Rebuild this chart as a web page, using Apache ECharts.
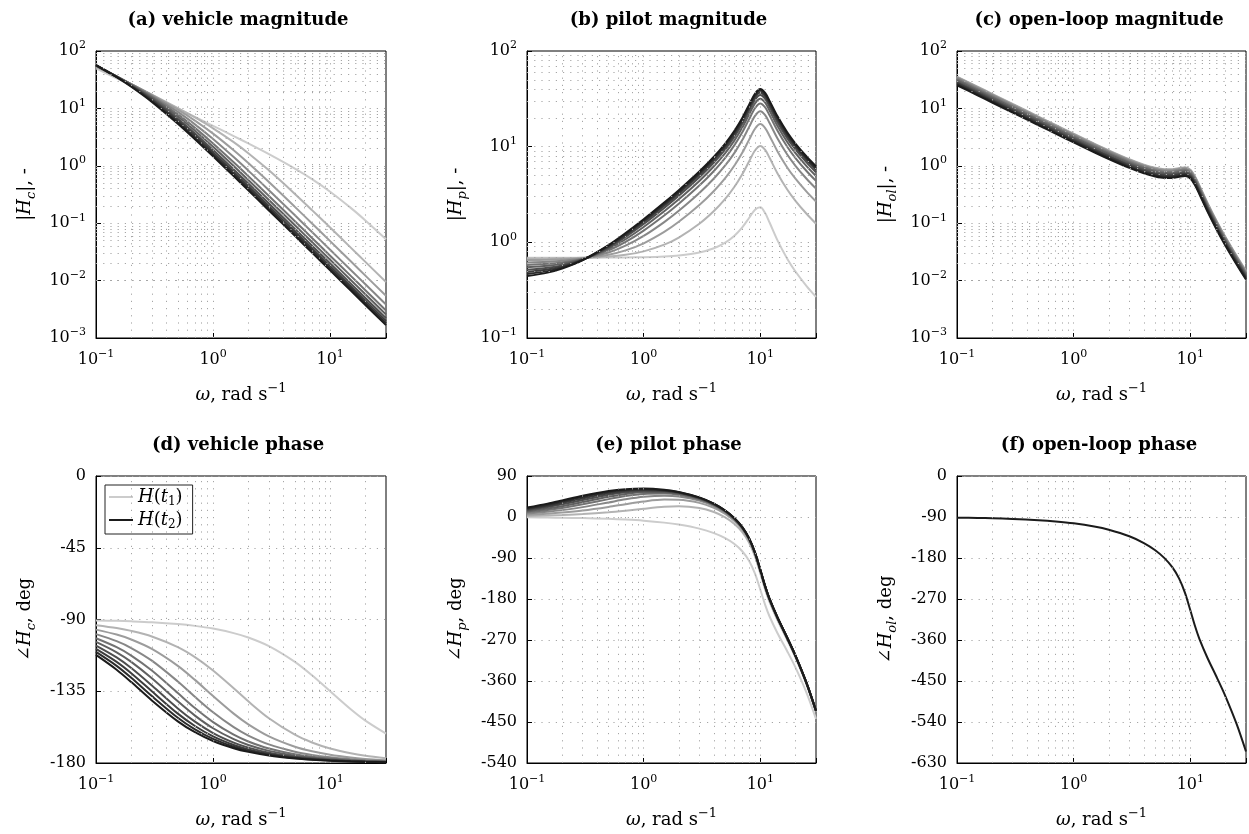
<!DOCTYPE html>
<html>
<head>
<meta charset="utf-8">
<script src="https://cdn.jsdelivr.net/npm/echarts@6/dist/echarts.min.js"></script>
<style>html,body{margin:0;padding:0;background:#fff}#c{width:1249px;height:834px}</style>
</head>
<body>
<div id="c"></div>
<script>
// ---------- data ----------
const omegaVehicle = [0.1, 0.15, 0.2, 0.3, 0.5, 0.7, 1, 1.5, 2, 3, 5, 7, 10, 15, 20, 30];
const omegaPilot = [0.1, 0.15, 0.2, 0.3, 0.5, 0.7, 1, 1.5, 2, 3, 4, 5, 6, 7, 8, 9, 10, 11, 12, 14, 17, 20, 25, 30];

const vehicleMag = [
  [50.0, 33.33, 25.0, 16.66, 9.99, 7.126, 4.975, 3.296, 2.451, 1.596, 0.894, 0.5851, 0.3536, 0.1849, 0.1118, 0.0527],
  [53.0, 35.25, 26.35, 17.40, 10.14, 6.951, 4.503, 2.583, 1.659, 0.833, 0.3237, 0.1691, 0.0839, 0.03755, 0.02117, 0.00943],
  [54.0, 35.73, 26.52, 17.18, 9.499, 6.127, 3.635, 1.864, 1.115, 0.5204, 0.1925, 0.0990, 0.0487, 0.02169, 0.01221, 0.00543],
  [55.0, 36.10, 26.51, 16.72, 8.674, 5.277, 2.936, 1.4187, 0.8248, 0.3758, 0.1371, 0.0702, 0.03447, 0.01534, 0.00863, 0.003837],
  [55.5, 36.07, 26.16, 16.02, 7.851, 4.580, 2.453, 1.1518, 0.6615, 0.2985, 0.1083, 0.0554, 0.02718, 0.01209, 0.00680, 0.003023],
  [56.0, 36.03, 25.82, 15.39, 7.211, 4.091, 2.144, 0.9915, 0.5660, 0.2543, 0.09206, 0.04705, 0.02307, 0.01026, 0.005771, 0.002565],
  [56.3, 35.79, 25.29, 14.67, 6.599, 3.662, 1.889, 0.8648, 0.4917, 0.2203, 0.07962, 0.04067, 0.01994, 0.008864, 0.004987, 0.002217],
  [56.6, 35.58, 24.82, 14.06, 6.140, 3.358, 1.715, 0.7801, 0.4425, 0.1979, 0.07147, 0.03650, 0.01789, 0.007954, 0.004475, 0.001989],
  [56.8, 35.29, 24.33, 13.50, 5.755, 3.113, 1.578, 0.7152, 0.4051, 0.1809, 0.06531, 0.03334, 0.01634, 0.007266, 0.004087, 0.001817],
  [57.0, 35.00, 23.84, 12.98, 5.417, 2.905, 1.465, 0.6615, 0.3742, 0.1670, 0.06025, 0.03076, 0.01508, 0.006701, 0.00377, 0.001675]
];

const vehiclePhase = [
  [-90.57, -90.86, -91.15, -91.72, -92.86, -94.00, -95.71, -98.53, -101.31, -106.70, -116.57, -124.99, -135.00, -146.31, -153.43, -161.57],
  [-93.58, -95.36, -97.13, -100.62, -107.35, -113.63, -122.01, -133.15, -141.34, -151.93, -162.26, -167.12, -170.91, -173.91, -175.43, -176.95],
  [-96.34, -99.46, -102.53, -108.43, -119.05, -127.87, -138.01, -149.04, -155.77, -163.30, -169.80, -172.67, -174.86, -176.57, -177.42, -178.28],
  [-99.16, -103.60, -107.88, -115.82, -128.88, -138.47, -148.20, -157.54, -162.78, -168.32, -172.93, -174.94, -176.45, -177.63, -178.22, -178.82],
  [-101.77, -107.35, -112.62, -122.01, -136.17, -145.56, -154.36, -162.26, -166.50, -170.91, -174.52, -176.08, -177.25, -178.17, -178.63, -179.08],
  [-104.04, -110.56, -116.57, -126.87, -141.34, -150.26, -158.20, -165.07, -168.69, -172.41, -175.43, -176.73, -177.71, -178.47, -178.85, -179.24],
  [-106.39, -113.81, -120.47, -131.42, -145.78, -154.09, -161.22, -167.23, -170.35, -173.53, -176.11, -177.22, -178.05, -178.70, -179.03, -179.35],
  [-108.43, -116.57, -123.69, -135.00, -149.04, -156.80, -163.30, -168.69, -171.47, -174.29, -176.57, -177.55, -178.28, -178.85, -179.14, -179.43],
  [-110.32, -119.05, -126.53, -138.01, -151.63, -158.91, -164.89, -169.80, -172.31, -174.86, -176.91, -177.79, -178.45, -178.97, -179.23, -179.48],
  [-112.21, -121.48, -129.23, -140.77, -153.90, -160.71, -166.23, -170.72, -173.02, -175.33, -177.19, -178.00, -178.60, -179.06, -179.30, -179.53]
];

const pilotMag = [
  [0.690, 0.690, 0.690, 0.6906, 0.6925, 0.6948, 0.6998, 0.7123, 0.7302, 0.7841, 0.8676, 0.9905, 1.1699, 1.4307, 1.7944, 2.1942, 2.3234, 2.0213, 1.6110, 1.0545, 0.6736, 0.4953, 0.3470, 0.2694],
  [0.6771, 0.6789, 0.6813, 0.6881, 0.7097, 0.7410, 0.8043, 0.9458, 1.1226, 1.5632, 2.1243, 2.8471, 3.8133, 5.1520, 6.9976, 9.1263, 10.185, 9.2516, 7.6429, 5.2869, 3.5700, 2.7203, 1.9763, 1.5669],
  [0.6518, 0.6569, 0.6639, 0.6834, 0.7428, 0.8244, 0.9773, 1.2854, 1.6381, 2.4539, 3.4451, 4.6952, 6.3492, 8.6293, 11.767, 15.388, 17.207, 15.654, 12.947, 8.970, 6.0654, 4.6256, 3.3632, 2.6676],
  [0.6170, 0.6268, 0.6402, 0.6772, 0.7843, 0.9228, 1.1666, 1.6279, 2.1347, 3.2759, 4.6423, 6.3555, 8.6157, 11.728, 16.008, 20.949, 23.437, 21.328, 17.645, 12.230, 8.2726, 6.3101, 4.5888, 3.6401],
  [0.5808, 0.5958, 0.6162, 0.6711, 0.8229, 1.0100, 1.3261, 1.9046, 2.5283, 3.9174, 5.5711, 7.6400, 10.367, 14.119, 19.279, 25.236, 28.237, 25.701, 21.264, 14.741, 9.9722, 7.6071, 5.5324, 4.3887],
  [0.5486, 0.5685, 0.5952, 0.6658, 0.8539, 1.0775, 1.4462, 2.1087, 2.8160, 4.3832, 6.2440, 8.5691, 11.632, 15.847, 21.642, 28.332, 31.704, 28.858, 23.878, 16.553, 11.199, 8.5436, 6.2136, 4.9292],
  [0.5161, 0.5413, 0.5746, 0.6608, 0.8825, 1.1383, 1.5522, 2.2865, 3.0655, 4.7856, 6.8243, 9.3701, 12.723, 17.336, 23.678, 30.999, 34.692, 31.578, 26.129, 18.115, 12.256, 9.3500, 6.8003, 5.3946],
  [0.4892, 0.5190, 0.5580, 0.6569, 0.9041, 1.1835, 1.6300, 2.4159, 3.2466, 5.0770, 7.2442, 9.9496, 13.512, 18.412, 25.150, 32.929, 36.851, 33.544, 27.756, 19.243, 13.020, 9.9328, 7.2241, 5.7311],
  [0.4659, 0.4999, 0.5439, 0.6536, 0.9216, 1.2195, 1.6915, 2.5178, 3.3888, 5.3054, 7.5733, 10.404, 14.130, 19.256, 26.303, 34.439, 38.542, 35.085, 29.031, 20.127, 13.619, 10.389, 7.5563, 5.9946],
  [0.4442, 0.4824, 0.5311, 0.6508, 0.9369, 1.2507, 1.7443, 2.6048, 3.5101, 5.5003, 7.8539, 10.791, 14.657, 19.975, 27.285, 35.726, 39.983, 36.397, 30.117, 20.881, 14.128, 10.778, 7.8394, 6.2190]
];

const pilotPhase = [
  [-0.82, -1.22, -1.62, -2.44, -4.08, -5.71, -8.18, -12.35, -16.61, -25.56, -35.35, -46.37, -59.29, -75.18, -96.04, -124.45, -159.59, -192.76, -218.44, -254.48, -294.59, -330.11, -386.97, -443.25],
  [2.19, 3.28, 4.36, 6.46, 10.41, 13.92, 18.12, 22.27, 23.42, 19.67, 11.05, -0.68, -15.18, -33.05, -56.01, -86.52, -123.68, -158.77, -186.22, -225.46, -269.50, -308.11, -368.83, -427.87],
  [4.95, 7.38, 9.76, 14.27, 22.11, 28.16, 34.12, 38.16, 37.85, 31.04, 20.17, 6.86, -8.78, -27.50, -51.12, -82.15, -119.73, -155.17, -182.92, -222.62, -267.15, -306.12, -367.23, -426.54],
  [7.77, 11.52, 15.11, 21.66, 31.94, 38.76, 44.31, 46.66, 44.86, 36.06, 24.04, 9.99, -6.15, -25.23, -49.13, -80.38, -118.14, -153.72, -181.59, -221.48, -266.21, -305.32, -366.59, -426.00],
  [10.38, 15.27, 19.85, 27.85, 39.23, 45.85, 50.47, 51.38, 48.58, 38.65, 26.01, 11.58, -4.82, -24.09, -48.13, -79.49, -117.34, -152.99, -180.92, -220.90, -265.74, -304.91, -366.27, -425.74],
  [12.65, 18.48, 23.80, 32.71, 44.40, 50.55, 54.31, 54.19, 50.77, 40.15, 27.14, 12.49, -4.06, -23.44, -47.56, -78.99, -116.88, -152.57, -180.54, -220.58, -265.47, -304.69, -366.09, -425.58],
  [15.00, 21.73, 27.70, 37.26, 48.84, 54.38, 57.33, 56.35, 52.43, 41.27, 27.99, 13.17, -3.49, -22.95, -47.13, -78.60, -116.54, -152.26, -180.25, -220.33, -265.27, -304.51, -365.95, -425.47],
  [17.04, 24.49, 30.92, 40.84, 52.10, 57.09, 59.41, 57.81, 53.55, 42.03, 28.56, 13.63, -3.11, -22.62, -46.85, -78.35, -116.31, -152.05, -180.06, -220.17, -265.13, -304.40, -365.86, -425.39],
  [18.93, 26.97, 33.76, 43.85, 54.69, 59.20, 61.00, 58.92, 54.39, 42.60, 28.99, 13.97, -2.83, -22.38, -46.63, -78.16, -116.14, -151.90, -179.92, -220.04, -265.03, -304.31, -365.79, -425.34],
  [20.82, 29.40, 36.46, 46.61, 56.96, 61.00, 62.34, 59.84, 55.10, 43.07, 29.35, 14.25, -2.59, -22.17, -46.45, -78.00, -115.99, -151.77, -179.80, -219.94, -264.95, -304.24, -365.73, -425.29]
];

const openLoopMag = [
  [34.50, 23.00, 17.26, 11.51, 6.916, 4.951, 3.482, 2.348, 1.790, 1.252, 1.007, 0.886, 0.836, 0.837, 0.876, 0.906, 0.821, 0.618, 0.430, 0.2189, 0.1005, 0.0554, 0.02578, 0.01420],
  [35.89, 23.93, 17.95, 11.97, 7.195, 5.150, 3.622, 2.443, 1.862, 1.302, 1.047, 0.922, 0.870, 0.871, 0.911, 0.943, 0.855, 0.643, 0.447, 0.2277, 0.1045, 0.0576, 0.02681, 0.01477],
  [35.20, 23.47, 17.61, 11.74, 7.056, 5.051, 3.552, 2.396, 1.826, 1.277, 1.027, 0.904, 0.853, 0.854, 0.894, 0.924, 0.838, 0.631, 0.4385, 0.2233, 0.1025, 0.0565, 0.0263, 0.01449],
  [33.93, 22.62, 16.97, 11.32, 6.802, 4.869, 3.424, 2.309, 1.760, 1.231, 0.990, 0.871, 0.822, 0.823, 0.861, 0.891, 0.808, 0.608, 0.4226, 0.2153, 0.0988, 0.05446, 0.02535, 0.01397],
  [32.23, 21.49, 16.12, 10.75, 6.461, 4.625, 3.253, 2.194, 1.672, 1.169, 0.941, 0.828, 0.781, 0.782, 0.818, 0.846, 0.767, 0.577, 0.4015, 0.2045, 0.0938, 0.0517, 0.02408, 0.01327],
  [30.72, 20.48, 15.37, 10.25, 6.158, 4.408, 3.100, 2.091, 1.594, 1.115, 0.897, 0.789, 0.744, 0.745, 0.780, 0.807, 0.731, 0.550, 0.3827, 0.1949, 0.0894, 0.0493, 0.02295, 0.01264],
  [29.05, 19.37, 14.53, 9.691, 5.823, 4.169, 2.932, 1.977, 1.507, 1.054, 0.848, 0.746, 0.704, 0.705, 0.737, 0.763, 0.692, 0.520, 0.3618, 0.1843, 0.0846, 0.0466, 0.0217, 0.01196],
  [27.69, 18.46, 13.85, 9.237, 5.551, 3.974, 2.794, 1.885, 1.437, 1.005, 0.808, 0.711, 0.671, 0.672, 0.703, 0.727, 0.659, 0.496, 0.3449, 0.1757, 0.0806, 0.0444, 0.02069, 0.0114],
  [26.46, 17.64, 13.24, 8.827, 5.304, 3.797, 2.670, 1.801, 1.373, 0.960, 0.772, 0.679, 0.641, 0.642, 0.672, 0.695, 0.630, 0.474, 0.3296, 0.1679, 0.0770, 0.04247, 0.01977, 0.01089],
  [25.32, 16.88, 12.67, 8.447, 5.076, 3.633, 2.555, 1.723, 1.314, 0.919, 0.739, 0.650, 0.614, 0.614, 0.643, 0.665, 0.603, 0.454, 0.3154, 0.1607, 0.0737, 0.0406, 0.01892, 0.01042]
];

const openLoopPhase = [-91.39, -92.08, -92.77, -94.16, -96.94, -99.71, -103.89, -110.88, -117.92, -132.26, -147.15, -162.94, -180.25, -200.17, -224.70, -256.44, -294.59, -330.49, -358.63, -398.94, -444.12, -483.54, -545.17, -604.82];

const panelTitles = ['(a) vehicle magnitude', '(b) pilot magnitude', '(c) open-loop magnitude',
                     '(d) vehicle phase', '(e) pilot phase', '(f) open-loop phase'];
const legendLabels = ['H(t1)', 'H(t2)'];
const gridMantissas = [1, 2, 3, 4, 5, 6, 7, 8, 9];

// ---------- styling / layout ----------
const FONT = 'DejaVu Serif';
const grays = ['#cccccc', '#b3b3b3', '#9c9c9c', '#878787', '#737373', '#606060', '#4e4e4e', '#3c3c3c', '#2b2b2b', '#1b1b1b'];
const gridBoxes = [
  {left: 96, top: 51, width: 290, height: 287},
  {left: 527, top: 51, width: 289, height: 287},
  {left: 957, top: 51, width: 290, height: 287},
  {left: 96, top: 476, width: 290, height: 287},
  {left: 527, top: 476, width: 289, height: 287},
  {left: 957, top: 476, width: 290, height: 287}
];
const dotted = {type: [1.2, 6], color: '#a6a6a6', width: 1};

function decadeGrid(lo, hi) { // lo, hi exponents; lines strictly inside
  const out = [];
  for (let e = lo; e < hi; e++) gridMantissas.forEach(m => { const v = m * Math.pow(10, e); if (!(m === 1 && e === lo)) out.push(+v.toPrecision(6)); });
  return out;
}
const xGridVals = decadeGrid(-1, 2).filter(v => v < 30);

const tickRich = {
  b: {fontFamily: FONT, fontSize: 16, lineHeight: 22, color: '#000'},
  sup: {fontFamily: FONT, fontSize: 11, lineHeight: 11, verticalAlign: 'top', color: '#000'}
};
const nameRich = {
  n: {fontFamily: FONT, fontSize: 18, lineHeight: 26, color: '#000'},
  i: {fontFamily: FONT, fontSize: 18, lineHeight: 26, fontStyle: 'italic', color: '#000'},
  sub: {fontFamily: FONT, fontSize: 13, lineHeight: 13, fontStyle: 'italic', verticalAlign: 'bottom', color: '#000'},
  sup: {fontFamily: FONT, fontSize: 13, lineHeight: 13, verticalAlign: 'top', color: '#000'}
};
function powLabel(v) {
  const e = Math.round(Math.log10(v));
  const p = Math.pow(10, e);
  if (Math.abs(v - p) > 1e-6 * p) return '';
  return '{b|10}{sup|' + (e < 0 ? '\u2212' + (-e) : e) + '}';
}

const yNames = [
  '{n||}{i|H}{sub|c}{n||, -}', '{n||}{i|H}{sub|p}{n||, -}', '{n||}{i|H}{sub|ol}{n||, -}',
  '{n|\u2220}{i|H}{sub|c}{n|, deg}', '{n|\u2220}{i|H}{sub|p}{n|, deg}', '{n|\u2220}{i|H}{sub|ol}{n|, deg}'
];
const yCfg = [
  {type: 'log', min: 0.001, max: 100, lo: -3, hi: 2},
  {type: 'log', min: 0.1, max: 100, lo: -1, hi: 2},
  {type: 'log', min: 0.001, max: 100, lo: -3, hi: 2},
  {type: 'value', min: -180, max: 0, interval: 45},
  {type: 'value', min: -540, max: 90, interval: 90},
  {type: 'value', min: -630, max: 0, interval: 90}
];
const panelData = [
  {x: omegaVehicle, ys: vehicleMag},
  {x: omegaPilot, ys: pilotMag},
  {x: omegaPilot, ys: openLoopMag},
  {x: omegaVehicle, ys: vehiclePhase},
  {x: omegaPilot, ys: pilotPhase},
  {x: omegaPilot, ys: [openLoopPhase]}
];

const grid = gridBoxes.map(b => Object.assign({show: true, borderColor: '#000', borderWidth: 1, backgroundColor: 'transparent', containLabel: false}, b));

const xAxis = gridBoxes.map((b, i) => ({
  type: 'log', logBase: 10, gridIndex: i, min: 0.1, max: 30,
  axisLine: {show: true, onZero: false, lineStyle: {color: '#000', width: 1}},
  axisTick: {show: true, inside: true, length: 5, lineStyle: {color: '#000'}},
  splitLine: {show: false},
  axisLabel: {formatter: powLabel, margin: 11, rich: tickRich, showMinLabel: true, showMaxLabel: true},
  name: '{i|\u03c9}{n|, rad s}{sup|\u22121}', nameLocation: 'middle', nameGap: 44,
  nameTextStyle: {rich: nameRich}
}));

const yAxis = yCfg.map((c, i) => {
  const ax = {
    type: c.type, gridIndex: i, min: c.min, max: c.max,
    axisLine: {show: true, onZero: false, lineStyle: {color: '#000', width: 1}},
    axisTick: {show: true, inside: true, length: 5, lineStyle: {color: '#000'}},
    name: yNames[i], nameLocation: 'middle', nameRotate: 90, nameGap: 58,
    nameTextStyle: {rich: nameRich}
  };
  if (c.type === 'log') {
    ax.logBase = 10;
    ax.splitLine = {show: false};
    ax.axisLabel = {formatter: powLabel, margin: 10, rich: tickRich, showMinLabel: true, showMaxLabel: true};
  } else {
    ax.interval = c.interval;
    ax.splitLine = {show: true, lineStyle: dotted};
    ax.axisLabel = {fontFamily: FONT, fontSize: 16, color: '#000', margin: 10, showMinLabel: true, showMaxLabel: true};
  }
  return ax;
});

const series = [];
yCfg.forEach((c, i) => {
  const ml = xGridVals.map(v => ({xAxis: v}));
  if (c.type === 'log') decadeGrid(c.lo, c.hi).forEach(v => ml.push({yAxis: v}));
  series.push({
    type: 'line', name: 'grid' + i, xAxisIndex: i, yAxisIndex: i, data: [], silent: true, z: 1, animation: false,
    markLine: {silent: true, symbol: ['none', 'none'], label: {show: false}, animation: false,
               lineStyle: dotted, emphasis: {disabled: true}, data: ml}
  });
});
panelData.forEach((p, i) => {
  p.ys.forEach((arr, j) => {
    const col = p.ys.length === 1 ? grays[9] : grays[j];
    let nm = 'p' + i + '_' + j;
    if (i === 3 && j === 0) nm = legendLabels[0];
    if (i === 3 && j === p.ys.length - 1) nm = legendLabels[1];
    series.push({
      type: 'line', name: nm, xAxisIndex: i, yAxisIndex: i,
      data: p.x.map((w, k) => [w, arr[k]]),
      symbol: 'none', showSymbol: false, smooth: 0.3, silent: true, animation: false, z: 3,
      lineStyle: {color: col, width: 2}, itemStyle: {color: col}
    });
  });
});

const graphic = panelTitles.map((t, i) => ({
  type: 'text',
  x: gridBoxes[i].left + gridBoxes[i].width / 2 - 3,
  y: i < 3 ? 20 : 445,
  style: {text: t, fill: '#000', font: 'bold 18px "DejaVu Serif"', align: 'center', verticalAlign: 'middle',
          textAlign: 'center', textVerticalAlign: 'middle'}
}));

const legendRich = {
  i: {fontFamily: FONT, fontSize: 18, lineHeight: 22, fontStyle: 'italic', color: '#000'},
  n: {fontFamily: FONT, fontSize: 18, lineHeight: 22, color: '#000'},
  sub: {fontFamily: FONT, fontSize: 12, lineHeight: 12, verticalAlign: 'bottom', color: '#000'}
};

const option = {
  animation: false,
  backgroundColor: '#fff',
  grid, xAxis, yAxis, series, graphic,
  legend: {
    data: legendLabels, left: 105, top: 485, orient: 'vertical',
    icon: 'rect', itemWidth: 24, itemHeight: 2, itemGap: 3,
    padding: [3, 10, 3, 4], borderColor: '#222', borderWidth: 1, backgroundColor: '#fff',
    selectedMode: false,
    formatter: n => n === legendLabels[0] ? '{i|H}{n|(}{i|t}{sub|1}{n|)}' : '{i|H}{n|(}{i|t}{sub|2}{n|)}',
    textStyle: {rich: legendRich}
  }
};

const chart = echarts.init(document.getElementById('c'));
chart.setOption(option);
</script>
</body>
</html>
